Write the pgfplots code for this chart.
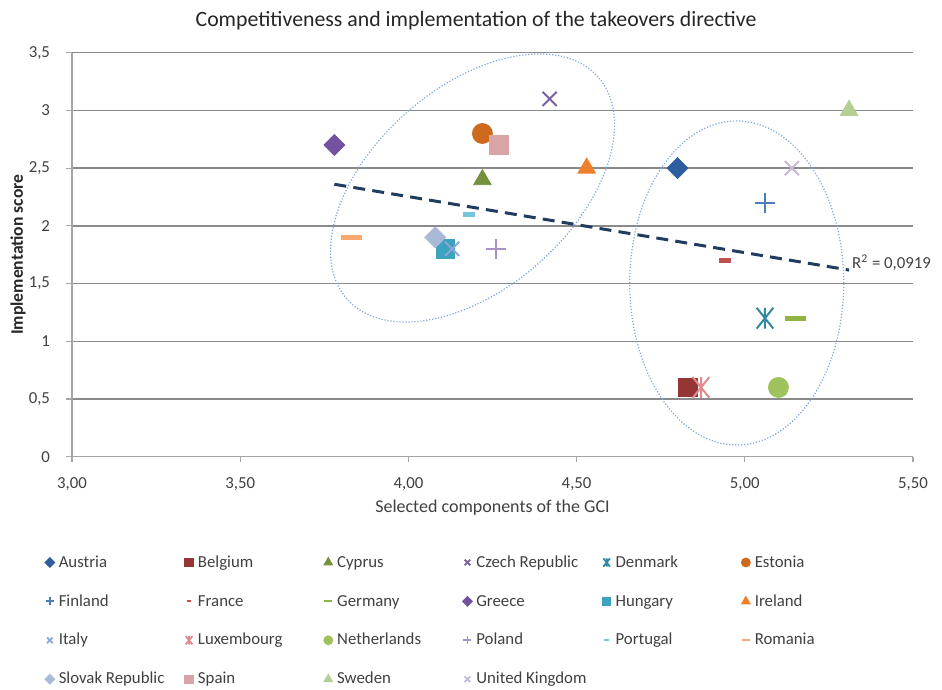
\documentclass[border=0pt]{standalone}
\usepackage{pgfplots}
\pgfplotsset{compat=1.18}
\usepackage{fontspec}
\setmainfont{Carlito}

% series colours
\definecolor{cAustria}{HTML}{2E5E9E}
\definecolor{cBelgium}{HTML}{963634}
\definecolor{cCyprus}{HTML}{74913C}
\definecolor{cCzech}{HTML}{7A62A0}
\definecolor{cDenmark}{HTML}{31899F}
\definecolor{cEstonia}{HTML}{CD6A1E}
\definecolor{cFinland}{HTML}{4A7EBB}
\definecolor{cFrance}{HTML}{C0504D}
\definecolor{cGermany}{HTML}{8FB443}
\definecolor{cGreece}{HTML}{7352A0}
\definecolor{cHungary}{HTML}{3CA2C0}
\definecolor{cIreland}{HTML}{F07F2A}
\definecolor{cItaly}{HTML}{8AA6D8}
\definecolor{cLux}{HTML}{E08C8C}
\definecolor{cNeth}{HTML}{9EC25C}
\definecolor{cPoland}{HTML}{A692C8}
\definecolor{cPortugal}{HTML}{74C4DC}
\definecolor{cRomania}{HTML}{F9A86E}
\definecolor{cSlovak}{HTML}{A9BAD9}
\definecolor{cSpain}{HTML}{D9A4A6}
\definecolor{cSweden}{HTML}{B4CF93}
\definecolor{cUK}{HTML}{C5B8D9}
\definecolor{gridgray}{HTML}{8A8A8A}
\definecolor{axisgray}{HTML}{A6A6A6}
\definecolor{txt}{HTML}{404040}
\definecolor{trendcol}{HTML}{213D5E}
\definecolor{ellcol}{HTML}{7EA6E0}

% star marker: a cross with a vertical bar
\pgfdeclareplotmark{xstar}{%
  \pgfpathmoveto{\pgfqpoint{-0.8\pgfplotmarksize}{-\pgfplotmarksize}}%
  \pgfpathlineto{\pgfqpoint{0.8\pgfplotmarksize}{\pgfplotmarksize}}%
  \pgfpathmoveto{\pgfqpoint{-0.8\pgfplotmarksize}{\pgfplotmarksize}}%
  \pgfpathlineto{\pgfqpoint{0.8\pgfplotmarksize}{-\pgfplotmarksize}}%
  \pgfpathmoveto{\pgfqpoint{0pt}{-\pgfplotmarksize}}%
  \pgfpathlineto{\pgfqpoint{0pt}{\pgfplotmarksize}}%
  \pgfusepathqstroke}

\newcommand{\lgd}[1]{\makebox[60.7pt][l]{#1}}

\pgfplotsset{
  pt/.style={only marks,
    legend image code/.code={%
      \path (0pt,0.1pt) (8pt,0.1pt);
      \draw[mark repeat=2,mark phase=2,##1]
        plot coordinates {(0pt,0.1pt) (4pt,0.1pt) (8pt,0.1pt)};}},
  dmd/.style={pt, mark=square*, mark size=3.7pt, mark options={rotate=45}},
  sqr/.style={pt, mark=square*, mark size=4.7pt},
  tri/.style={pt, mark=triangle*, mark size=5.05pt},
  crs/.style={pt, mark=x, mark size=5pt, line width=1pt},
  pls/.style={pt, mark=+, mark size=5pt, line width=1pt},
  ast/.style={pt, mark=xstar, mark size=5.2pt, line width=1pt},
  crc/.style={pt, mark=*, mark size=5pt},
  sdash/.style={pt, mark=-, mark size=3pt, line width=2.6pt},
  ldash/.style={pt, mark=-, mark size=5.2pt, line width=2.6pt},
}

\begin{document}
\begin{tikzpicture}
\begin{axis}[
  width=420.5pt, height=202pt, scale only axis,
  xmin=3, xmax=5.5, ymin=0, ymax=3.5,
  xtick={3,3.5,4,4.5,5,5.5},
  ytick={0,0.5,1,1.5,2,2.5,3,3.5},
  axis lines*=left,
  axis line style={draw=axisgray, line width=0.6pt},
  ymajorgrids,
  grid style={draw=gridgray, line width=0.75pt},
  tick align=outside,
  major tick length=2.8pt,
  tick style={draw=axisgray, line width=0.6pt},
  /pgf/number format/assume math mode=true,
  tick label style={font=\fontsize{8.4}{10}\selectfont, text=txt},
  xticklabel style={anchor=north, inner sep=0pt, yshift=-7.5pt},
  yticklabel style={anchor=east, inner sep=0pt, xshift=-8pt},
  x tick label style={/pgf/number format/.cd, fixed, fixed zerofill, precision=2, use comma},
  y tick label style={/pgf/number format/.cd, use comma},
  clip=false,
  legend columns=6,
  legend cell align=left,
  legend style={at={(axis description cs:-0.0369,-0.2413)}, anchor=north west,
    draw=none, fill=none, inner sep=0pt, outer sep=0pt,
    font=\fontsize{8.4}{10}\selectfont, text=txt,
    row sep=10.95pt,
    nodes={inner sep=0pt, text height=6.5pt, text depth=2pt},
    /tikz/every odd column/.style={column sep=0pt}},
  legend image post style={line width=0.9pt, /tikz/every mark/.append style={scale=0.4}},
]
\coordinate (pbl) at (rel axis cs:0,0);
\coordinate (ptr) at (rel axis cs:1,1);

% country scores: GCI components (x) against implementation score (y)
\addplot[dmd, color=cAustria]   coordinates {(4.80,2.5)}; \addlegendentry{\lgd{Austria}}
\addplot[sqr, color=cBelgium]   coordinates {(4.83,0.6)}; \addlegendentry{\lgd{Belgium}}
\addplot[tri, color=cCyprus]    coordinates {(4.22,2.4)}; \addlegendentry{\lgd{Cyprus}}
\addplot[crs, color=cCzech]     coordinates {(4.42,3.1)}; \addlegendentry{\lgd{Czech Republic}}
\addplot[ast, color=cDenmark]   coordinates {(5.06,1.2)}; \addlegendentry{\lgd{Denmark}}
\addplot[crc, color=cEstonia]   coordinates {(4.22,2.8)}; \addlegendentry{\lgd{Estonia}}
\addplot[pls, color=cFinland]   coordinates {(5.06,2.2)}; \addlegendentry{\lgd{Finland}}
\addplot[sdash, color=cFrance]  coordinates {(4.94,1.7)}; \addlegendentry{\lgd{France}}
\addplot[ldash, color=cGermany] coordinates {(5.15,1.2)}; \addlegendentry{\lgd{Germany}}
\addplot[dmd, color=cGreece]    coordinates {(3.78,2.7)}; \addlegendentry{\lgd{Greece}}
\addplot[sqr, color=cHungary]   coordinates {(4.11,1.8)}; \addlegendentry{\lgd{Hungary}}
\addplot[tri, color=cIreland]   coordinates {(4.53,2.5)}; \addlegendentry{\lgd{Ireland}}
\addplot[crs, color=cItaly]     coordinates {(4.13,1.8)}; \addlegendentry{\lgd{Italy}}
\addplot[ast, color=cLux]       coordinates {(4.87,0.6)}; \addlegendentry{\lgd{Luxembourg}}
\addplot[crc, color=cNeth]      coordinates {(5.10,0.6)}; \addlegendentry{\lgd{Netherlands}}
\addplot[pls, color=cPoland]    coordinates {(4.26,1.8)}; \addlegendentry{\lgd{Poland}}
\addplot[sdash, color=cPortugal] coordinates {(4.18,2.1)}; \addlegendentry{\lgd{Portugal}}
\addplot[ldash, color=cRomania] coordinates {(3.83,1.9)}; \addlegendentry{\lgd{Romania}}
\addplot[dmd, color=cSlovak]    coordinates {(4.08,1.9)}; \addlegendentry{\lgd{Slovak Republic}}
\addplot[sqr, color=cSpain]     coordinates {(4.27,2.7)}; \addlegendentry{\lgd{Spain}}
\addplot[tri, color=cSweden]    coordinates {(5.31,3.0)}; \addlegendentry{\lgd{Sweden}}
\addplot[crs, color=cUK]        coordinates {(5.14,2.5)}; \addlegendentry{\lgd{United Kingdom}}

% linear trend line of all countries
\addplot[forget plot, no marks, color=trendcol, line width=1.5pt,
  dash pattern=on 6pt off 3.6pt] coordinates {(3.78,2.360) (5.31,1.617)};
\node[anchor=west, font=\fontsize{8.4}{10}\selectfont, text=txt, inner sep=0pt]
  at (axis cs:5.318,1.68) {R\textsuperscript{2} = 0,0919};

% the two country groups
\draw[ellcol, line width=0.6pt, dash pattern=on 0.6pt off 0.9pt,
  rotate around={41.5:(axis cs:4.1906,2.328)}]
  (axis cs:4.1906,2.328) ellipse [x radius=83.8pt, y radius=50.1pt];
\draw[ellcol, line width=0.6pt, dash pattern=on 0.6pt off 0.9pt]
  (axis cs:4.976,1.505) ellipse [x radius=53.5pt, y radius=81pt];

% titles
\node[anchor=base, font=\fontsize{10.9}{13}\selectfont, text=black!85]
  at (axis description cs:0.4804,1.0644)
  {Competitiveness and implementation of the takeovers directive};
\node[anchor=base, font=\fontsize{9}{11}\selectfont, text=txt]
  at (axis description cs:0.5,-0.137) {Selected components of the GCI};
\node[anchor=center, rotate=90, font=\bfseries\fontsize{8.8}{10}\selectfont, text=black!85]
  at (axis description cs:-0.0642,0.5) {Implementation score};
\end{axis}
\pgfresetboundingbox
\path ([shift={(-36pt,-116.65pt)}]pbl) rectangle ([shift={(14.5pt,26.35pt)}]ptr);
\end{tikzpicture}
\end{document}
